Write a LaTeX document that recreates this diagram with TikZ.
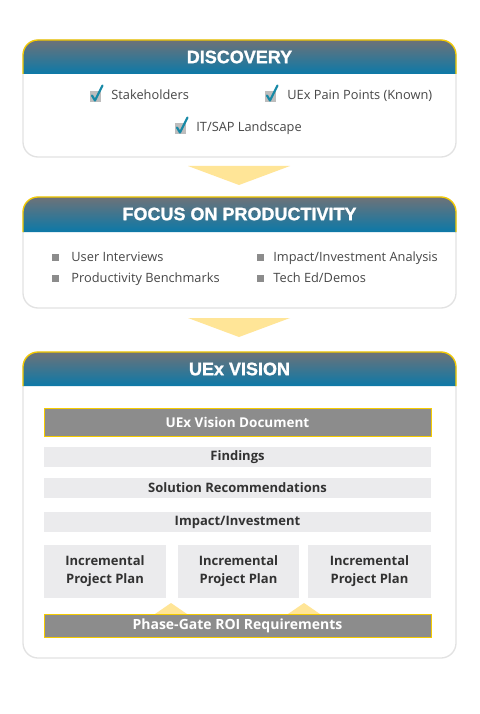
\documentclass[tikz,border=0pt]{standalone}
\usepackage{fontspec}
\setmainfont{Open Sans}
\newfontfamily\headfont{Liberation Sans Bold}[FakeBold=1.2]
\usetikzlibrary{positioning}
\definecolor{headgray}{HTML}{6E7278}
\definecolor{headblue}{HTML}{0C79A8}
\definecolor{gateyellow}{HTML}{F5CB00}
\definecolor{arrowyellow}{HTML}{FFE597}
\definecolor{framegray}{HTML}{E2E2E2}
\definecolor{docgray}{HTML}{8C8C8C}
\definecolor{rowgray}{HTML}{EBEBED}
\definecolor{textgray}{HTML}{474747}
\definecolor{checkteal}{HTML}{1689A6}
\definecolor{boxgray}{HTML}{BDBDBD}
\tikzset{
  panel/.style={fill=white,draw=framegray,line width=1.3pt,rounded corners=15pt},
  headfill/.style={top color=headgray,bottom color=headblue,rounded corners=15pt},
  headline/.style={draw=gateyellow,line width=1.3pt,rounded corners=15pt},
  headtitle/.style={text=white,font=\headfont\fontsize{18}{20}\selectfont},
  itemtext/.style={text=textgray,inner sep=0pt,text height=9.5pt,text depth=2.5pt,
    font=\fontsize{12.8}{15}\selectfont},
  sqbullet/.style={fill=docgray,minimum size=7pt,inner sep=0pt},
  checkbox/.style={fill=boxgray,minimum size=11pt,inner sep=0pt},
  checkmark/.style={draw=checkteal,line width=2.2pt,line cap=round,line join=round},
  flowarrow/.style={fill=arrowyellow},
  docbox/.style={fill=docgray,draw=gateyellow,line width=1pt,minimum width=387pt,
    text=white,font=\bfseries\fontsize{13.5}{16}\selectfont},
  rowbox/.style={fill=rowgray,minimum width=387pt,minimum height=20pt,inner sep=0pt,
    text=textgray!70!black,font=\bfseries\fontsize{13}{15}\selectfont},
  planbox/.style={fill=rowgray,minimum height=53pt,inner sep=0pt,align=center,
    text=textgray!70!black,font=\bfseries\fontsize{13}{18}\selectfont}
}
\begin{document}
\begin{tikzpicture}[x=1pt,y=-1pt]
\useasboundingbox[fill=white] (0,0) rectangle (479,714);
% panels
\foreach \t/\h/\b in {40/74/157,197/232/308,352/386/658}{
  \draw[panel] (23,\t) rectangle (456,\b);
  \path[headfill] (23,\h) -- (23,\t) -- (456,\t) -- (456,\h);
  \draw[headline] (23,\h) -- (23,\t) -- (456,\t) -- (456,\h);
}
\node[headtitle] (discovery) at (239.5,57) {DISCOVERY};
\node[headtitle] (focus) at (239.5,214) {FOCUS ON PRODUCTIVITY};
\node[headtitle] (vision) at (239.5,369) {UEx VISION};
% arrows between panels
\fill[flowarrow] (188,166) -- (290,166) -- (239,185) -- cycle;
\fill[flowarrow] (188,318) -- (290,318) -- (239,337) -- cycle;
% discovery
\foreach \n/\x/\y in {a/95.5/96.5,b/270.5/96.5,c/180.5/128.5}{
  \node[checkbox] (chk\n) at (\x,\y) {};
  \draw[checkmark,shift={(chk\n.center)}] (-3.5,-1) -- (-0.5,4) -- (7,-11);
}
\node[itemtext,right=10pt of chka] (stake) {Stakeholders};
\node[itemtext,right=11pt of chkb] (pain) {UEx Pain Points (Known)};
\node[itemtext,right=10pt of chkc] (landscape) {IT/SAP Landscape};
% focus on productivity
\foreach \n/\x/\y in {a/55.5/257.5,b/55.5/278.5,c/260.5/257.5,d/260.5/278.5}
  \node[sqbullet] (blt\n) at (\x,\y) {};
\node[itemtext,right=12pt of blta] (interviews) {User Interviews};
\node[itemtext,right=12pt of bltb] (bench) {Productivity Benchmarks};
\node[itemtext,right=9pt of bltc] (analysis) {Impact/Investment Analysis};
\node[itemtext,right=9pt of bltd] (demos) {Tech Ed/Demos};
% vision
\node[docbox,minimum height=28pt] (doc) at (237.5,422) {UEx Vision Document};
\node[rowbox] (findings) at (237.5,457) {Findings};
\node[rowbox] (solution) at (237.5,487.5) {Solution Recommendations};
\node[rowbox] (impact) at (237.5,522) {Impact/Investment};
\node[planbox,minimum width=122pt] (plana) at (105,571.5) {Incremental\\Project Plan};
\node[planbox,minimum width=121pt] (planb) at (238.5,571.5) {Incremental\\Project Plan};
\node[planbox,minimum width=123pt] (planc) at (369.5,571.5) {Incremental\\Project Plan};
\fill[flowarrow] (155,614) -- (187,614) -- (171,603) -- cycle;
\fill[flowarrow] (288,614) -- (320,614) -- (304,603) -- cycle;
\node[docbox,minimum height=23pt,font=\bfseries\fontsize{14}{16}\selectfont] (gate) at (237.5,625.5) {Phase-Gate ROI Requirements};
\end{tikzpicture}
\end{document}
